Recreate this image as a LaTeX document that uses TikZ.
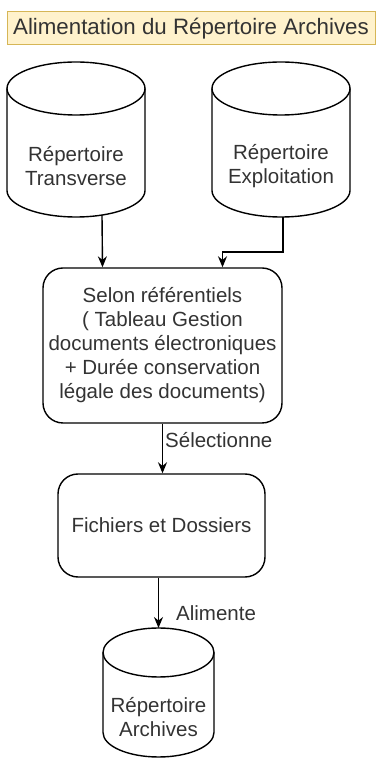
\documentclass[tikz,border=0pt]{standalone}
\usepackage{fontspec}
\setmainfont{Liberation Sans}
\usetikzlibrary{arrows.meta}
\definecolor{ink}{HTML}{333333}
\definecolor{cream}{HTML}{FFF2CC}
\definecolor{gold}{HTML}{D6B656}

% cylinder outline: #1 centre x, #2 bottom y, #3 width, #4 height, #5 ellipse radius
\newcommand\cylshape[5]{%
  \draw[line width=1.4pt] ({#1-#3/2},{#2+#4-#5}) -- ({#1-#3/2},{#2+#5})
    arc[start angle=180,end angle=360,x radius={#3/2},y radius=#5]
    -- ({#1+#3/2},{#2+#4-#5});
  \draw[line width=1.4pt] (#1,{#2+#4-#5}) ellipse[x radius={#3/2},y radius=#5];}

\begin{document}
\begin{tikzpicture}[x=1pt,y=1pt,
  every node/.style={font=\fontsize{20.5}{24}\selectfont, text=ink, inner sep=0pt},
  conn/.style={line width=1.4pt, -{Stealth[length=11pt,width=9pt]}},
  flowbox/.style={draw, line width=1.4pt, rounded corners=20pt, align=center},
  drumbody/.style={align=center}]
\useasboundingbox (0,0) rectangle (379,761);

% title bar
\node[draw=gold, fill=cream, line width=1pt, minimum width=368pt, minimum height=33pt,
      font=\fontsize{22.3}{24}\selectfont] (title) at (191,732.5)
  {Alimentation du Répertoire Archives};

% source directories
\cylshape{76}{544}{138}{155}{26.5}
\node[drumbody, minimum width=138pt, minimum height=102pt] (c1) at (76,595)
  {Répertoire\\Transverse};
\cylshape{281}{544}{138}{155}{26.5}
\node[drumbody, minimum width=138pt, minimum height=102pt] (c2) at (281,595)
  {Répertoire\\Exploitation};

% selection rules
\node[flowbox, minimum width=239pt, minimum height=155pt] (b1) at (162.5,415.5)
  {Selon référentiels\\( Tableau Gestion\\documents électroniques\\+ Durée conservation\\légale des documents)};

% selected content
\node[flowbox, minimum width=207pt, minimum height=103pt] (b2) at (161.5,235.5)
  {Fichiers et Dossiers};

% archive directory
\cylshape{158.5}{4}{111}{129}{24.5}
\node[drumbody, minimum width=111pt, minimum height=80pt] (c3) at (158.5,44)
  {Répertoire\\Archives};
\coordinate (c3top) at (158.5,133);

% connectors
\draw[conn] ([xshift=26pt,yshift=2pt]c1.south) -- ([xshift=-60pt]b1.north);
\draw[conn] ([xshift=2pt]c2.south) -- ++(0,-35) -| ([xshift=60pt]b1.north);
\draw[conn] (b1.south) -- (b1.south |- b2.north);
\node[anchor=west] (sel) at (165,321) {Sélectionne};
\draw[conn] (b2.south -| c3top) -- (c3top);
\node[anchor=west] (ali) at (176,148) {Alimente};
\end{tikzpicture}
\end{document}
